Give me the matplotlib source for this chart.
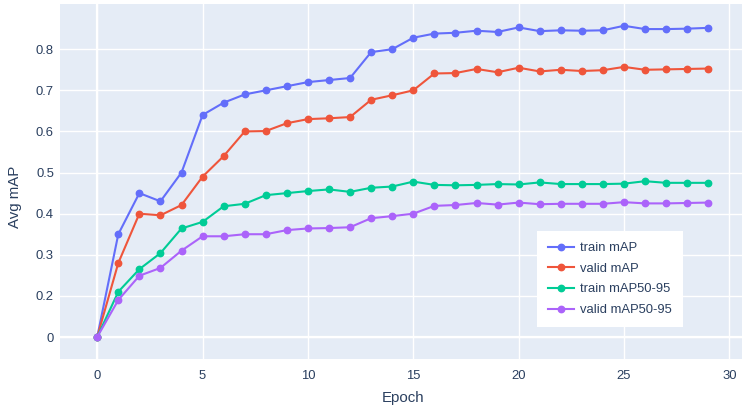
import numpy as np
import matplotlib
matplotlib.use("Agg")
import matplotlib.pyplot as plt

epochs = list(range(30))

train_map = [0.0, 0.35, 0.45, 0.43, 0.50, 0.64, 0.67, 0.69, 0.70, 0.71,
             0.72, 0.725, 0.73, 0.793, 0.80, 0.828, 0.838, 0.84, 0.845, 0.842,
             0.853, 0.844, 0.846, 0.845, 0.846, 0.857, 0.849, 0.849, 0.850, 0.852]

valid_map = [0.0, 0.28, 0.40, 0.396, 0.421, 0.49, 0.54, 0.60, 0.601, 0.62,
             0.63, 0.632, 0.635, 0.677, 0.688, 0.70, 0.741, 0.742, 0.752, 0.744,
             0.755, 0.746, 0.75, 0.747, 0.749, 0.757, 0.750, 0.751, 0.752, 0.753]

train_map5095 = [0.0, 0.21, 0.265, 0.304, 0.364, 0.38, 0.418, 0.424, 0.445, 0.45,
                 0.455, 0.459, 0.453, 0.463, 0.466, 0.478, 0.47, 0.469, 0.47, 0.472,
                 0.471, 0.476, 0.472, 0.472, 0.472, 0.473, 0.479, 0.475, 0.475, 0.475]

valid_map5095 = [0.0, 0.18, 0.249, 0.268, 0.31, 0.345, 0.345, 0.35, 0.35, 0.36,
                 0.364, 0.365, 0.367, 0.389, 0.394, 0.40, 0.419, 0.421, 0.426, 0.422,
                 0.427, 0.423, 0.424, 0.424, 0.424, 0.428, 0.425, 0.425, 0.426, 0.427]

series_names = ["train mAP", "valid mAP", "train mAP50-95", "valid mAP50-95"]
colors = ["#636efa", "#EF553B", "#00cc96", "#ab63fa"]

y_ticks = [0, 0.2, 0.3, 0.4, 0.5, 0.6, 0.7, 0.8]
y_tick_labels = ["0", "0.2", "0.3", "0.4", "0.5", "0.6", "0.7", "0.8"]
x_ticks = [0, 5, 10, 15, 20, 25, 30]

# the axis in the picture squeezes 0..0.2 into one grid step
def fwd(v):
    v = np.asarray(v, dtype=float)
    return np.where(v < 0.2, v * 0.5, v - 0.1)

def inv(u):
    u = np.asarray(u, dtype=float)
    return np.where(u < 0.1, u * 2.0, u + 0.1)

plt.rcParams['font.family'] = ['Liberation Sans', 'DejaVu Sans']
text_col = "#2a3f5f"
W, H = 742, 409

fig = plt.figure(figsize=(7.42, 4.09), dpi=100)
ax = fig.add_axes([59.5 / W, (H - 359) / H, (W - 59.5) / W, (359 - 4) / H])
ax.set_facecolor("#E5ECF6")
ax.set_yscale('function', functions=(fwd, inv))

all_series = [train_map, valid_map, train_map5095, valid_map5095]
for vals, name, c in zip(all_series, series_names, colors):
    ax.plot(epochs, vals, color=c, lw=1.5, marker='o', ms=4.6, label=name,
            zorder=3, solid_joinstyle='round')

ax.set_xlim(-1.79, 30.6)
ax.set_ylim(-0.107, 0.91)

ax.set_xticks(x_ticks)
ax.set_yticks(y_ticks)
ax.set_yticklabels(y_tick_labels)
ax.yaxis.set_minor_locator(matplotlib.ticker.NullLocator())
ax.grid(True, color="white", lw=1.0, zorder=0)
ax.axhline(0, color="white", lw=1.6, zorder=1)
ax.axvline(0, color="white", lw=1.6, zorder=1)
ax.set_axisbelow(True)

for s in ax.spines.values():
    s.set_visible(False)
ax.tick_params(length=0, labelsize=9.4, labelcolor=text_col)
ax.tick_params(axis='x', pad=8)
ax.tick_params(axis='y', pad=4)

# axis titles placed where the reference has them
fig.text(403 / W, 1 - 398 / H, "Epoch", fontsize=10.8, color=text_col,
         ha='center', va='center')
fig.text(15 / W, 1 - 197 / H, "Avg mAP", fontsize=10.8, color=text_col,
         ha='center', va='center', rotation=90)

leg = ax.legend(loc='upper left', bbox_to_anchor=((537 - 59.5) / 682.5, (359 - 231) / 355),
                frameon=True, fancybox=False, framealpha=1.0, edgecolor='white',
                fontsize=9.4, labelcolor=text_col, handlelength=2.0, handletextpad=0.45,
                borderpad=0.85, labelspacing=0.65, borderaxespad=0)
leg.get_frame().set_linewidth(0)

fig.savefig("out.png", dpi=100)
